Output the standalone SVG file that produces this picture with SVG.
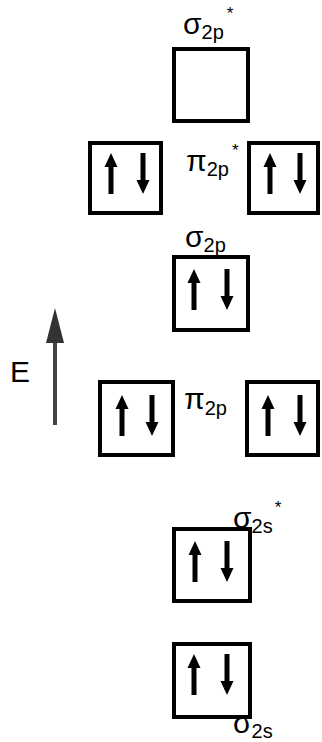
<svg xmlns="http://www.w3.org/2000/svg" xmlns:xlink="http://www.w3.org/1999/xlink" width="322" height="742" viewBox="0 0 322 742">
<style>
.box{fill:#fff;stroke:#000;stroke-width:4}
.lbl{font-family:"Liberation Sans",Arial,sans-serif;fill:#000}
.g{font-size:30px}
.s{font-size:20px}
.st{font-size:17px}
</style>
<defs>
<g id="up"><polygon points="0,0 -6.5,14 6.5,14" fill="#000"/><rect x="-2.5" y="13" width="5" height="28" fill="#000"/></g>
<g id="dn"><polygon points="0,41 -6.5,27 6.5,27" fill="#000"/><rect x="-2.5" y="0" width="5" height="28" fill="#000"/></g>
</defs>
<g id="connectors">
<line x1="55" y1="425" x2="55" y2="330" stroke="#444" stroke-width="4"/>
<polygon points="55,308 46,343 64,343" fill="#333"/>
<text class="lbl" x="10" y="382" font-size="30">E</text>
</g>
<g id="sigma2p_star">
<rect class="box" x="174" y="49" width="74" height="72"/>
<text class="lbl" x="183" y="34"><tspan class="g">σ</tspan><tspan class="s" dy="5">2p</tspan><tspan class="st" dx="3" dy="-20">*</tspan></text>
</g>
<g id="pi2p_star_left">
<rect class="box" x="90" y="143" width="71" height="70"/>
<use xlink:href="#up" x="111" y="153"/>
<use xlink:href="#dn" x="143" y="153"/>
</g>
<g id="pi2p_star_right">
<rect class="box" x="249" y="143" width="69" height="70"/>
<use xlink:href="#up" x="270" y="153"/>
<use xlink:href="#dn" x="300" y="153"/>
</g>
<text class="lbl" x="186" y="171"><tspan class="g">π</tspan><tspan class="s" dy="5">2p</tspan><tspan class="st" dx="3" dy="-20">*</tspan></text>
<g id="sigma2p">
<rect class="box" x="174" y="257" width="74" height="73"/>
<text class="lbl" x="185" y="247"><tspan class="g">σ</tspan><tspan class="s" dy="5">2p</tspan></text>
<use xlink:href="#up" x="194" y="269"/>
<use xlink:href="#dn" x="227" y="269"/>
</g>
<g id="pi2p_left">
<rect class="box" x="100" y="382" width="73" height="73"/>
<use xlink:href="#up" x="122" y="395"/>
<use xlink:href="#dn" x="152" y="395"/>
</g>
<g id="pi2p_right">
<rect class="box" x="247" y="382" width="71" height="73"/>
<use xlink:href="#up" x="268" y="395"/>
<use xlink:href="#dn" x="300" y="395"/>
</g>
<text class="lbl" x="184" y="409"><tspan class="g">π</tspan><tspan class="s" dy="6">2p</tspan></text>
<g id="sigma2s">
<rect class="box" x="174" y="644" width="76" height="73"/>
<use xlink:href="#up" x="194" y="654"/>
<use xlink:href="#dn" x="227" y="654"/>
<text class="lbl" x="233" y="733"><tspan class="g">σ</tspan><tspan class="s" dy="5">2s</tspan></text>
</g>
<g id="sigma2s_star">
<rect class="box" x="174" y="529" width="76" height="72"/>
<use xlink:href="#up" x="195" y="541"/>
<use xlink:href="#dn" x="227" y="541"/>
<text class="lbl" x="233" y="528"><tspan class="g">σ</tspan><tspan class="s" dy="5">2s</tspan><tspan class="st" dx="2" dy="-20">*</tspan></text>
</g>
</svg>
